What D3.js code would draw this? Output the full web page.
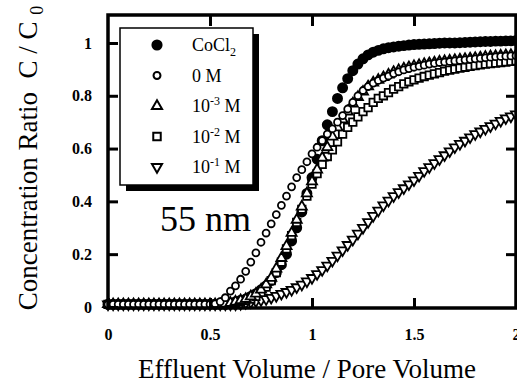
<!DOCTYPE html>
<html>
<head>
<meta charset="utf-8">
<script src="https://cdn.jsdelivr.net/npm/d3@7"></script>
<style>
  body { margin: 0; background: #fff; }
  svg { display: block; }
  text { font-family: "Liberation Serif", "Times New Roman", serif; fill: #000; }
</style>
</head>
<body>
<div id="chart"></div>
<script>
// effluent volume / pore volume, shared by all series
const volume = [
  0, 0.025, 0.05, 0.075, 0.1, 0.125, 0.15, 0.175, 0.2, 0.225,
  0.25, 0.275, 0.3, 0.325, 0.35, 0.375, 0.4, 0.425, 0.45, 0.475,
  0.5, 0.525, 0.55, 0.575, 0.6, 0.625, 0.65, 0.675, 0.7, 0.725,
  0.75, 0.775, 0.8, 0.825, 0.85, 0.875, 0.9, 0.925, 0.95, 0.975,
  1, 1.025, 1.05, 1.075, 1.1, 1.125, 1.15, 1.175, 1.2, 1.225,
  1.25, 1.275, 1.3, 1.325, 1.35, 1.375, 1.4, 1.425, 1.45, 1.475,
  1.5, 1.525, 1.55, 1.575, 1.6, 1.625, 1.65, 1.675, 1.7, 1.725,
  1.75, 1.775, 1.8, 1.825, 1.85, 1.875, 1.9, 1.925, 1.95, 1.975,
  2
];

// C / C0 for each series
const cocl2 = [
  0.01, 0.01, 0.01, 0.01, 0.01, 0.01, 0.01, 0.01, 0.01, 0.01,
  0.01, 0.01, 0.01, 0.01, 0.01, 0.01, 0.01, 0.01, 0.01, 0.01,
  0.01, 0.01, 0.01, 0.01, 0.015, 0.02, 0.025, 0.03, 0.04, 0.05,
  0.065, 0.08, 0.10, 0.13, 0.16, 0.2, 0.25, 0.3, 0.36, 0.43,
  0.49, 0.56, 0.63, 0.69, 0.74, 0.79, 0.83, 0.865, 0.895, 0.92,
  0.94, 0.955, 0.965, 0.972, 0.978, 0.982, 0.985, 0.988, 0.99, 0.992,
  0.994, 0.995, 0.996, 0.997, 0.998, 0.999, 1.0, 1.0, 1.0, 1.001,
  1.002, 1.003, 1.004, 1.005, 1.006, 1.006, 1.007, 1.007, 1.008, 1.008,
  1.009
];
const m0 = [
  0.01, 0.01, 0.01, 0.01, 0.01, 0.01, 0.01, 0.01, 0.01, 0.01,
  0.01, 0.01, 0.01, 0.01, 0.01, 0.01, 0.01, 0.01, 0.01, 0.01,
  0.01, 0.012, 0.02, 0.035, 0.06, 0.08, 0.105, 0.135, 0.17, 0.205,
  0.245, 0.28, 0.315, 0.35, 0.385, 0.42, 0.455, 0.49, 0.52, 0.55,
  0.58, 0.605, 0.63, 0.655, 0.675, 0.70, 0.725, 0.75, 0.775, 0.80,
  0.82, 0.835, 0.848, 0.858, 0.867, 0.875, 0.884, 0.891, 0.898, 0.903,
  0.908, 0.912, 0.916, 0.92, 0.923, 0.926, 0.928, 0.93, 0.932, 0.934,
  0.936, 0.938, 0.94, 0.942, 0.944, 0.946, 0.948, 0.949, 0.95, 0.951,
  0.952
];
const m1e3 = [
  0.01, 0.01, 0.01, 0.01, 0.01, 0.01, 0.01, 0.01, 0.01, 0.01,
  0.01, 0.01, 0.01, 0.01, 0.01, 0.01, 0.01, 0.01, 0.01, 0.01,
  0.01, 0.01, 0.01, 0.012, 0.015, 0.02, 0.025, 0.03, 0.04, 0.05,
  0.065, 0.085, 0.11, 0.145, 0.185, 0.23, 0.28, 0.33, 0.38, 0.43,
  0.475, 0.52, 0.565, 0.605, 0.645, 0.68, 0.71, 0.74, 0.77, 0.795,
  0.815, 0.835, 0.85, 0.86, 0.87, 0.88, 0.89, 0.897, 0.903, 0.908,
  0.912, 0.916, 0.92, 0.923, 0.926, 0.929, 0.931, 0.933, 0.935, 0.937,
  0.939, 0.941, 0.943, 0.945, 0.947, 0.949, 0.95, 0.952, 0.953, 0.954,
  0.955
];
const m1e2 = [
  0.01, 0.01, 0.01, 0.01, 0.01, 0.01, 0.01, 0.01, 0.01, 0.01,
  0.01, 0.01, 0.01, 0.01, 0.01, 0.01, 0.01, 0.01, 0.01, 0.01,
  0.01, 0.01, 0.01, 0.01, 0.012, 0.015, 0.02, 0.025, 0.03, 0.04,
  0.055, 0.075, 0.10, 0.13, 0.17, 0.22, 0.27, 0.32, 0.37, 0.42,
  0.465, 0.505, 0.54, 0.57, 0.595, 0.625, 0.655, 0.68, 0.70, 0.72,
  0.74, 0.755, 0.775, 0.79, 0.80, 0.812, 0.825, 0.835, 0.845, 0.853,
  0.86, 0.867, 0.873, 0.878, 0.883, 0.888, 0.893, 0.897, 0.901, 0.905,
  0.908, 0.911, 0.914, 0.917, 0.92, 0.922, 0.924, 0.926, 0.928, 0.93,
  0.932
];
const m1e1 = [
  0.01, 0.01, 0.01, 0.01, 0.01, 0.01, 0.01, 0.01, 0.01, 0.01,
  0.01, 0.01, 0.01, 0.01, 0.01, 0.01, 0.01, 0.01, 0.01, 0.01,
  0.01, 0.01, 0.01, 0.01, 0.01, 0.01, 0.012, 0.015, 0.018, 0.022,
  0.026, 0.03, 0.035, 0.042, 0.05, 0.057, 0.065, 0.075, 0.085, 0.097,
  0.11, 0.125, 0.14, 0.157, 0.175, 0.195, 0.215, 0.235, 0.255, 0.278,
  0.30, 0.322, 0.345, 0.365, 0.385, 0.403, 0.42, 0.435, 0.45, 0.465,
  0.48, 0.497, 0.515, 0.53, 0.545, 0.56, 0.575, 0.59, 0.605, 0.618,
  0.63, 0.643, 0.655, 0.665, 0.675, 0.685, 0.695, 0.705, 0.715, 0.722,
  0.73
];

const xTicks = [0, 0.5, 1, 1.5, 2];
const xTickLabels = ["0", "0.5", "1", "1.5", "2"];
const yTicks = [0, 0.2, 0.4, 0.6, 0.8, 1];
const yTickLabels = ["0", "0.2", "0.4", "0.6", "0.8", "1"];

// legend label parts: [base, script, tail, kind]
const legendParts = [
  ["CoCl", "2", "", "sub"],
  ["0 M", "", "", ""],
  ["10", "-3", " M", "sup"],
  ["10", "-2", " M", "sup"],
  ["10", "-1", " M", "sup"]
];

const width = 517, height = 385;
const x = d3.scaleLinear().domain([0, 2]).range([108, 516]);
const y = d3.scaleLinear().domain([-0.004, 1.106]).range([308, 15]);

const svg = d3.select("#chart").append("svg")
  .attr("width", width)
  .attr("height", height);

//shapes for markers
const sym = d3.symbol();
const shapes = [
  { values: cocl2, path: sym.type(d3.symbolCircle).size(66)(), fill: "#000", rot: 0 },
  { values: m1e1, path: sym.type(d3.symbolTriangle).size(44)(), fill: "#fff", rot: 180 },
  { values: m1e2, path: sym.type(d3.symbolSquare).size(56)(), fill: "#fff", rot: 0 },
  { values: m1e3, path: sym.type(d3.symbolTriangle).size(44)(), fill: "#fff", rot: 0 },
  { values: m0, path: sym.type(d3.symbolCircle).size(38)(), fill: "#fff", rot: 0 }
];

const plot = svg.append("g");
shapes.forEach(s => {
  plot.append("g").selectAll("path")
    .data(volume.map((v, i) => [v, s.values[i]]))
    .join("path")
    .attr("d", s.path)
    .attr("transform", d => "translate(" + x(d[0]) + "," + y(d[1]) + ") rotate(" + s.rot + ")")
    .attr("fill", s.fill)
    .attr("stroke", "#000")
    .attr("stroke-width", 1.8);
});

//axes with inward ticks
function styleAxis(g) {
  g.select(".domain").remove();
  g.selectAll(".tick line").attr("stroke", "#000").attr("stroke-width", 3);
  g.selectAll(".tick text")
    .attr("font-family", "'Liberation Serif', serif")
    .attr("font-size", 16)
    .attr("font-weight", "bold")
    .attr("fill", "#000");
}

svg.append("g")
  .attr("transform", "translate(0," + y.range()[0] + ")")
  .call(d3.axisBottom(x).tickValues(xTicks).tickSizeInner(-10).tickSizeOuter(0)
    .tickPadding(21).tickFormat((d, i) => xTickLabels[i]))
  .call(styleAxis);

svg.append("g")
  .attr("transform", "translate(" + x.range()[0] + ",0)")
  .call(d3.axisLeft(y).tickValues(yTicks).tickSizeInner(-10).tickSizeOuter(0)
    .tickPadding(16).tickFormat((d, i) => yTickLabels[i]))
  .call(styleAxis);

svg.append("g")
  .attr("transform", "translate(0," + y.range()[1] + ")")
  .call(d3.axisTop(x).tickValues([0.5, 1, 1.5]).tickSizeInner(-11).tickSizeOuter(0).tickFormat(""))
  .call(styleAxis);

svg.append("g")
  .attr("transform", "translate(" + x.range()[1] + ",0)")
  .call(d3.axisRight(y).tickValues([0.2, 0.4, 0.6, 0.8]).tickSizeInner(-10).tickSizeOuter(0).tickFormat(""))
  .call(styleAxis);

// frame
svg.append("rect")
  .attr("x", x.range()[0])
  .attr("y", y.range()[1])
  .attr("width", x.range()[1] - x.range()[0])
  .attr("height", y.range()[0] - y.range()[1])
  .attr("fill", "none")
  .attr("stroke", "#000")
  .attr("stroke-width", 3.5);

// legend with drop shadow
const lg = svg.append("g").attr("transform", "translate(120,28)");
lg.append("rect").attr("x", 6).attr("y", 6).attr("width", 133).attr("height", 157).attr("fill", "#000");
lg.append("rect").attr("x", 0).attr("y", 0).attr("width", 133).attr("height", 157)
  .attr("fill", "#fff").attr("stroke", "#000").attr("stroke-width", 1.5);

const legendOrder = [0, 4, 3, 2, 1];
legendOrder.forEach((si, row) => {
  const s = shapes[si];
  const cy = 17 + row * 30.5;
  lg.append("path")
    .attr("d", s.path)
    .attr("transform", "translate(37," + cy + ") rotate(" + s.rot + ")")
    .attr("fill", s.fill)
    .attr("stroke", "#000")
    .attr("stroke-width", 2);
  const p = legendParts[row];
  const t = lg.append("text")
    .attr("x", 72)
    .attr("y", cy + 6)
    .attr("font-size", 18)
    .style("white-space", "pre");
  t.append("tspan").text(p[0]);
  if (p[1]) {
    const shift = p[3] === "sub" ? 5 : -7;
    t.append("tspan").attr("dy", shift).attr("font-size", 12).text(p[1]);
    if (p[2]) t.append("tspan").attr("dy", -shift).text(p[2]);
  }
});

// size label
svg.append("text")
  .attr("x", 160)
  .attr("y", 231)
  .attr("font-size", 36)
  .text("55 nm");

// axis titles
svg.append("text")
  .attr("x", (x.range()[0] + x.range()[1]) / 2 - 5)
  .attr("y", 378)
  .attr("text-anchor", "middle")
  .attr("font-size", 27)
  .text("Effluent Volume / Pore Volume");

const yt = svg.append("text")
  .attr("transform", "translate(37,158) rotate(-90)")
  .attr("text-anchor", "middle")
  .attr("font-size", 27)
  .style("white-space", "pre");
yt.append("tspan").text("Concentration Ratio  C / C ");
yt.append("tspan").attr("dy", 6).attr("font-size", 18).text("0");
</script>
</body>
</html>
